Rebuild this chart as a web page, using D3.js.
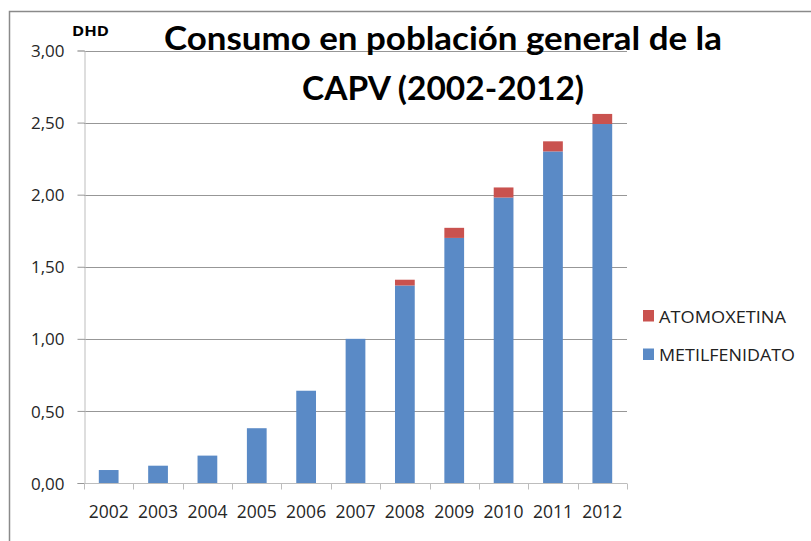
<!DOCTYPE html>
<html>
<head>
<meta charset="utf-8">
<script src="https://cdn.jsdelivr.net/npm/d3@7"></script>
<style>
  html, body { margin: 0; padding: 0; background: #fff; }
  svg { display: block; }
</style>
</head>
<body>
<svg id="chart" width="811" height="541"></svg>
<script>
const years = ["2002","2003","2004","2005","2006","2007","2008","2009","2010","2011","2012"];
const metilfenidato = [0.09, 0.12, 0.19, 0.38, 0.64, 1.00, 1.37, 1.70, 1.98, 2.30, 2.49];
const atomoxetina   = [0.00, 0.00, 0.00, 0.00, 0.00, 0.00, 0.04, 0.07, 0.07, 0.07, 0.07];
const yTicks = [0, 0.5, 1, 1.5, 2, 2.5, 3];
const seriesNames = ["METILFENIDATO", "ATOMOXETINA"];
const seriesColors = ["#5a8ac6", "#c9524f"];
const titleLines = ["Consumo en población general de la", "CAPV (2002-2012)"];
const yUnit = "DHD";

(function () {
const svg = d3.select("#chart");
const font = "'Open Sans', 'DejaVu Sans', sans-serif";
const pLeft = 84, pRight = 627, pTop = 50.5, pBottom = 483;

// chart border
svg.append("path")
  .attr("d", `M9.5,541 V11.5 H811`)
  .attr("fill", "none").attr("stroke", "#8a8a8a").attr("stroke-width", 1.5);

const x = d3.scaleBand().domain(years).range([pLeft, pRight]).padding(0);
const y = d3.scaleLinear().domain([0, 3]).range([pBottom, pTop]);
const loc = d3.formatLocale({decimal: ",", thousands: ".", grouping: [3], currency: ["", "€"]});
const fmt = loc.format(".2f");

// gridlines
svg.append("g").selectAll("line").data(yTicks.filter(d => d > 0)).join("line")
  .attr("x1", pLeft).attr("x2", pRight)
  .attr("y1", d => Math.round(y(d)) + 0.5).attr("y2", d => Math.round(y(d)) + 0.5)
  .attr("stroke", "#979797").attr("stroke-width", 1);

// y axis
const yAxis = svg.append("g").attr("transform", `translate(${pLeft + 0.5},0)`)
  .call(d3.axisLeft(y).tickValues(yTicks).tickFormat(fmt).tickSize(7).tickPadding(13));
yAxis.select(".domain").attr("stroke", "#bdbdbd");
yAxis.selectAll(".tick line").attr("stroke", "#979797");
yAxis.selectAll(".tick text").attr("font-family", font).attr("font-size", 17).attr("fill", "#262626")
  .attr("dy", "0.36em");

// bars
const data = years.map((yr, i) => ({year: yr, METILFENIDATO: metilfenidato[i], ATOMOXETINA: atomoxetina[i]}));
const stacked = d3.stack().keys(seriesNames)(data);
const barW = x.bandwidth() / 2.5;
svg.append("g").selectAll("g").data(stacked).join("g")
  .attr("fill", (d, i) => seriesColors[i])
  .selectAll("rect").data(d => d).join("rect")
  .attr("x", d => x(d.data.year) + (x.bandwidth() - barW) / 2)
  .attr("width", barW)
  .attr("y", d => y(d[1]))
  .attr("height", d => Math.max(0, y(d[0]) - y(d[1])));

// x axis
const xAxis = svg.append("g").attr("transform", `translate(0,${Math.round(pBottom) + 0.5})`);
xAxis.append("line").attr("x1", pLeft).attr("x2", pRight).attr("stroke", "#bdbdbd");
const bounds = years.map(d => x(d)).concat([pRight]);
xAxis.selectAll("line.tk").data(bounds).join("line").attr("class", "tk")
  .attr("x1", d => Math.round(d) + 0.5).attr("x2", d => Math.round(d) + 0.5)
  .attr("y1", 0).attr("y2", 6).attr("stroke", "#bdbdbd");
xAxis.selectAll("text").data(years).join("text")
  .attr("x", d => x(d) + x.bandwidth() / 2).attr("y", 34.5)
  .attr("text-anchor", "middle")
  .attr("font-family", font).attr("font-size", 17.5).attr("fill", "#262626")
  .text(d => d);

// unit label
svg.append("text").attr("x", 72).attr("y", 36)
  .attr("font-family", font).attr("font-weight", "bold").attr("font-size", 14.5).attr("fill", "#000")
  .attr("textLength", 37).attr("lengthAdjust", "spacingAndGlyphs")
  .text(yUnit);

// title
const titleWidths = [558, 282];
const titleY = [50, 100];
titleLines.forEach((t, i) => {
  svg.append("text").attr("x", 443).attr("y", titleY[i])
    .attr("text-anchor", "middle")
    .attr("font-family", "Lato, 'Open Sans', sans-serif").attr("font-weight", "bold")
    .attr("font-size", 32).attr("fill", "#000")
    .attr("textLength", titleWidths[i]).attr("lengthAdjust", "spacingAndGlyphs")
    .text(t);
});

// legend
const legendItems = [{name: "ATOMOXETINA", color: seriesColors[1], w: 127}, {name: "METILFENIDATO", color: seriesColors[0], w: 136}];
const lg = svg.append("g").attr("transform", "translate(643,310)");
legendItems.forEach((d, i) => {
  const g = lg.append("g").attr("transform", `translate(0,${i * 38.5})`);
  g.append("rect").attr("width", 11).attr("height", 11.5).attr("fill", d.color);
  g.append("text").attr("x", 16).attr("y", 12.5)
    .attr("font-family", font).attr("font-size", 17).attr("fill", "#222")
    .attr("textLength", d.w).attr("lengthAdjust", "spacingAndGlyphs")
    .text(d.name);
});
})();
</script>
</body>
</html>
